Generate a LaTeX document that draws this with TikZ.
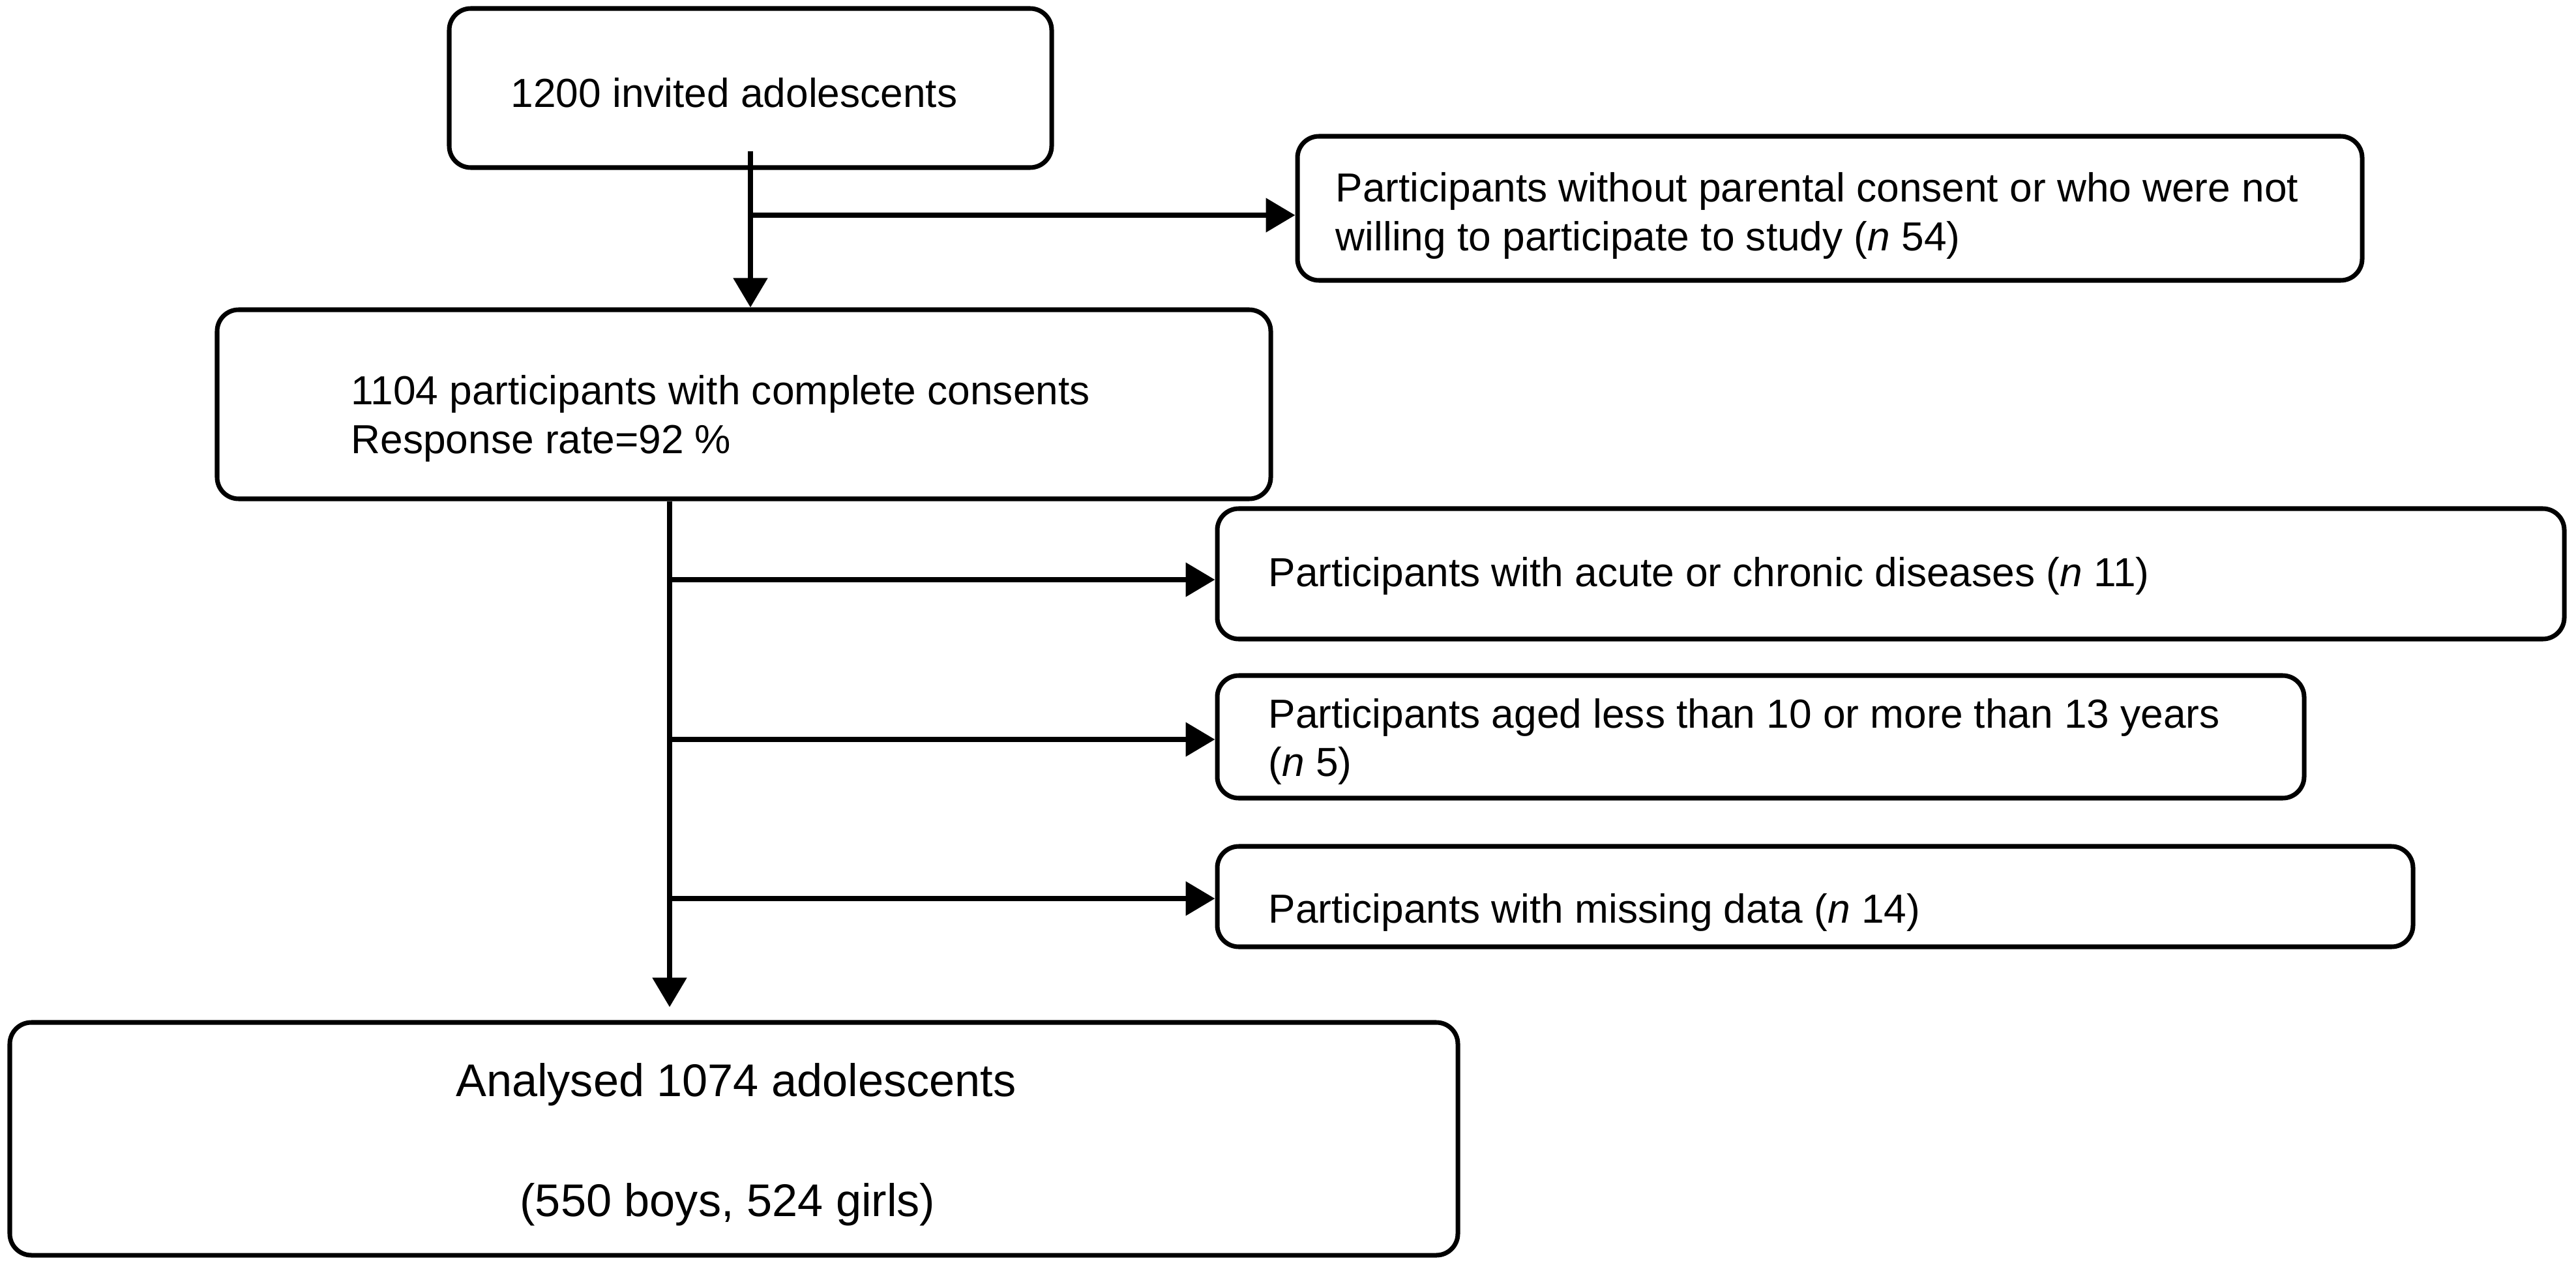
\documentclass[tikz,border=0pt]{standalone}
\usepackage{fontspec}
\setmainfont{Liberation Sans}
\usetikzlibrary{arrows.meta}

\begin{document}
\begin{tikzpicture}[
  stagebox/.style={rectangle, rounded corners=3.3mm, draw=black, line width=2pt, inner sep=0pt},
  boxtext/.style={anchor=base west, inner sep=0pt, font=\fontsize{17.7}{21}\selectfont},
  bigtext/.style={anchor=base, inner sep=0pt, font=\fontsize{20}{24}\selectfont},
  flowarrow/.style={line width=2.3pt, -{Triangle[length=4.5mm, width=5.1mm]}}
]
\useasboundingbox (0,0) rectangle (39.51,-19.40);

% Empty boxes - text is placed separately
\node[stagebox, minimum width=9.24cm, minimum height=2.44cm] (invited) at (11.51,-1.35) {};
\node[stagebox, minimum width=16.33cm, minimum height=2.21cm] (refused) at (28.065,-3.195) {};
\node[stagebox, minimum width=16.16cm, minimum height=2.90cm] (consents) at (11.41,-6.20) {};
\node[stagebox, minimum width=20.66cm, minimum height=2.00cm] (diseases) at (29.00,-8.80) {};
\node[stagebox, minimum width=16.67cm, minimum height=1.88cm] (agerange) at (27.005,-11.30) {};
\node[stagebox, minimum width=18.34cm, minimum height=1.54cm] (missing) at (27.84,-13.75) {};
\node[stagebox, minimum width=22.21cm, minimum height=3.57cm] (analysed) at (11.255,-17.465) {};

% Text inside the boxes
\node[boxtext] (invitedtxt) at (7.83,-1.65) {1200 invited adolescents};
\node[boxtext] (refusedtxta) at (20.48,-3.10) {Participants without parental consent or who were not};
\node[boxtext] (refusedtxtb) at (20.48,-3.85) {willing to participate to study (\textit{n} 54)};
\node[boxtext] (consentstxta) at (5.38,-6.20) {1104 participants with complete consents};
\node[boxtext] (consentstxtb) at (5.38,-6.95) {Response rate=92 \%};
\node[boxtext] (diseasestxt) at (19.45,-8.99) {Participants with acute or chronic diseases (\textit{n} 11)};
\node[boxtext] (agerangetxta) at (19.45,-11.16) {Participants aged less than 10 or more than 13 years};
\node[boxtext] (agerangetxtb) at (19.45,-11.90) {(\textit{n} 5)};
\node[boxtext] (missingtxt) at (19.45,-14.15) {Participants with missing data (\textit{n} 14)};
\node[bigtext] (analysedtxta) at (11.29,-16.81) {Analysed 1074 adolescents};
\node[bigtext] (analysedtxtb) at (11.16,-18.65) {(550 boys, 524 girls)};

% Split points
\coordinate (split1) at (11.51,-3.30);
\coordinate (split2) at (10.27,-8.89);
\coordinate (split3) at (10.27,-11.34);
\coordinate (split4) at (10.27,-13.78);

% Arrows
\draw[flowarrow] ([yshift=2.9mm]invited.south) -- (invited.south |- consents.north);
\draw[flowarrow] (split1) -- (split1 -| refused.west);
\draw[flowarrow, shorten >=2mm] (split2 |- consents.south) -- (split2 |- analysed.north);
\draw[flowarrow] (split2) -- (split2 -| diseases.west);
\draw[flowarrow] (split3) -- (split3 -| agerange.west);
\draw[flowarrow] (split4) -- (split4 -| missing.west);
\end{tikzpicture}
\end{document}
